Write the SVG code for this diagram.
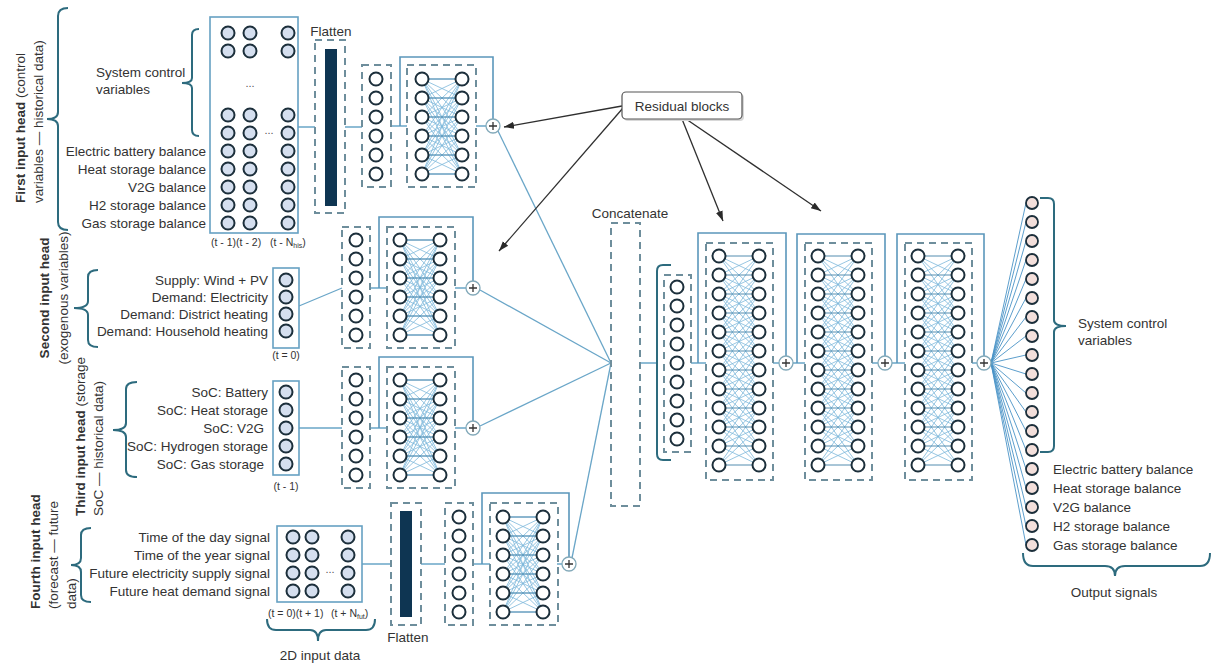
<svg xmlns="http://www.w3.org/2000/svg" width="1212" height="666" viewBox="0 0 1212 666">
<defs>
<style>
text{font-family:"Liberation Sans",Arial,sans-serif;fill:#333;font-size:13.5px}
.b{font-weight:bold}
.s{font-size:10.5px}
.sub{font-size:7px}
.mid{text-anchor:middle}
.end{text-anchor:end}
.nd{fill:#fff;stroke:#1c2f3b;stroke-width:2}
.ni{fill:#d5dfef;stroke:#1c2f3b;stroke-width:2}
.no{fill:#f3dfdb;stroke:#1c2f3b;stroke-width:1.8}
.box{fill:#fff;stroke:#66a1c2;stroke-width:1.6}
.dash{fill:none;stroke:#6e8e9c;stroke-width:2;stroke-dasharray:7 5}
.br{fill:none;stroke:#2d6b7e;stroke-width:2}
.fc{fill:none;stroke:#7cb8da;stroke-width:0.8}
.fh{fill:none;stroke:#3f7fa6;stroke-width:0.9}
.ln{fill:none;stroke:#6aa6c8;stroke-width:1.3}
.sk{fill:none;stroke:#5b97bb;stroke-width:1.6}
.fan{fill:none;stroke:#4a93c6;stroke-width:0.9}
.ar{fill:none;stroke:#2f2f2f;stroke-width:1.3}
.pc{fill:#fff;stroke:#82a9b9;stroke-width:1.3}
.pp{fill:none;stroke:#333;stroke-width:1.3}
.bar{fill:#0e3552}
.dots{fill:#555;font-size:11px}
</style>
<marker id="ah" viewBox="0 0 10 10" refX="10" refY="5" markerWidth="10" markerHeight="10" markerUnits="userSpaceOnUse" orient="auto"><path d="M0,1.5L10,5L0,8.5z" fill="#2a2a2a"/></marker>
<g id="c6" class="nd"><circle cx="0" cy="0" r="6.5"/><circle cx="0" cy="19" r="6.5"/><circle cx="0" cy="38" r="6.5"/><circle cx="0" cy="57" r="6.5"/><circle cx="0" cy="76" r="6.5"/><circle cx="0" cy="95" r="6.5"/></g>
<g id="c9" class="nd"><circle cx="0" cy="0" r="6.5"/><circle cx="0" cy="19" r="6.5"/><circle cx="0" cy="38" r="6.5"/><circle cx="0" cy="57" r="6.5"/><circle cx="0" cy="76" r="6.5"/><circle cx="0" cy="95" r="6.5"/><circle cx="0" cy="114" r="6.5"/><circle cx="0" cy="133" r="6.5"/><circle cx="0" cy="152" r="6.5"/></g>
<g id="c12" class="nd"><circle cx="0" cy="0" r="6.5"/><circle cx="0" cy="19" r="6.5"/><circle cx="0" cy="38" r="6.5"/><circle cx="0" cy="57" r="6.5"/><circle cx="0" cy="76" r="6.5"/><circle cx="0" cy="95" r="6.5"/><circle cx="0" cy="114" r="6.5"/><circle cx="0" cy="133" r="6.5"/><circle cx="0" cy="152" r="6.5"/><circle cx="0" cy="171" r="6.5"/><circle cx="0" cy="190" r="6.5"/><circle cx="0" cy="209" r="6.5"/></g>
<g id="ci9" class="ni"><circle cx="0" cy="33" r="6.5"/><circle cx="0" cy="51" r="6.5"/><circle cx="0" cy="115" r="6.5"/><circle cx="0" cy="133" r="6.5"/><circle cx="0" cy="151" r="6.5"/><circle cx="0" cy="169" r="6.5"/><circle cx="0" cy="187" r="6.5"/><circle cx="0" cy="205" r="6.5"/><circle cx="0" cy="223" r="6.5"/></g>
<g id="ci4" class="ni"><circle cx="0" cy="537" r="6.5"/><circle cx="0" cy="555" r="6.5"/><circle cx="0" cy="573" r="6.5"/><circle cx="0" cy="591" r="6.5"/></g>
<path id="fc6" class="fc" d="M40 0L0 0L40 19M40 38L0 0L40 57M40 76L0 0L40 95M40 0L0 19L40 19M40 38L0 19L40 57M40 76L0 19L40 95M40 0L0 38L40 19M40 38L0 38L40 57M40 76L0 38L40 95M40 0L0 57L40 19M40 38L0 57L40 57M40 76L0 57L40 95M40 0L0 76L40 19M40 38L0 76L40 57M40 76L0 76L40 95M40 0L0 95L40 19M40 38L0 95L40 57M40 76L0 95L40 95"/>
<path id="fh6" class="fh" d="M0 0H40M0 19H40M0 38H40M0 57H40M0 76H40M0 95H40"/>
<path id="fc12" class="fc" d="M40 19L0 0L40 38M0 0L40 57M40 0L0 19L40 38M40 57L0 19L40 76M40 0L0 38L40 19M40 57L0 38L40 76M0 38L40 95M40 0L0 57L40 19M40 38L0 57L40 76M40 95L0 57L40 114M40 19L0 76L40 38M40 57L0 76L40 95M40 114L0 76L40 133M40 38L0 95L40 57M40 76L0 95L40 114M40 133L0 95L40 152M40 57L0 114L40 76M40 95L0 114L40 133M40 152L0 114L40 171M40 76L0 133L40 95M40 114L0 133L40 152M40 171L0 133L40 190M40 95L0 152L40 114M40 133L0 152L40 171M40 190L0 152L40 209M40 114L0 171L40 133M40 152L0 171L40 190M0 171L40 209M40 133L0 190L40 152M40 171L0 190L40 209M40 152L0 209L40 171M0 209L40 190"/>
<path id="fh12" class="fh" d="M0 0H40M0 19H40M0 38H40M0 57H40M0 76H40M0 95H40M0 114H40M0 133H40M0 152H40M0 171H40M0 190H40M0 209H40"/>
<g id="r6"><use href="#fc6"/><use href="#fh6"/><use href="#c6"/><use href="#c6" x="40"/></g>
<g id="r12"><use href="#fc12"/><use href="#fh12"/><use href="#c12"/><use href="#c12" x="40"/></g>
<g id="plus"><circle cx="0" cy="0" r="7" class="pc"/><path class="pp" d="M-4 0H4M0 -4V4"/></g>
</defs>

<rect width="1212" height="666" fill="#fff"/>

<!-- connectors -->
<g id="connectors">
<path class="ln" d="M298 127H315M345 127H362M391 126H407M476 126H486"/>
<path class="sk" d="M400 126V57H493V119"/>
<path class="ln" d="M498 131L611 363"/>
<path class="ln" d="M299 306L342 288M370 288H387M455 288H466"/>
<path class="sk" d="M379 288V217H473V281"/>
<path class="ln" d="M480 290L611 363"/>
<path class="ln" d="M299 428H342M370 428H387M455 428H466"/>
<path class="sk" d="M379 428V357H473V421"/>
<path class="ln" d="M480 426L611 363"/>
<path class="ln" d="M362 564H391M421 564H445M473 564H490M557 564H562"/>
<path class="sk" d="M482 564V493H569V557"/>
<path class="ln" d="M572 558L611 363"/>
<path class="ln" d="M640 363H657M691 363H706M773 363H779M793 363H805M872 363H878M892 363H905M972 363H977"/>
<path class="sk" d="M698 363V233H786V356M797 363V234H885V356M897 363V234H984V356"/>
<path class="fan" d="M991 363L1026 203M991 363L1026 222M991 363L1026 241M991 363L1026 260M991 363L1026 279M991 363L1026 298M991 363L1026 317M991 363L1026 336M991 363L1026 355M991 363L1026 374M991 363L1026 393M991 363L1026 412M991 363L1026 431M991 363L1026 450M991 363L1026 469M991 363L1026 488M991 363L1026 507M991 363L1026 526M991 363L1026 545"/>
<path class="ar" marker-end="url(#ah)" d="M622 106L504 127"/>
<path class="ar" marker-end="url(#ah)" d="M623 108L499 251"/>
<path class="ar" marker-end="url(#ah)" d="M682 119L723 221"/>
<path class="ar" marker-end="url(#ah)" d="M686 119L821 211"/>
</g>

<!-- head 1 -->
<g id="head1-label">
<text transform="translate(25,203) rotate(-90)"><tspan class="b">First input head</tspan> (control</text>
<text transform="translate(43,203) rotate(-90)">variables — historical data)</text>
<path class="br" d="M68 8Q58 8 58 16V112Q58 119 47 119Q58 119 58 126V222Q58 230 68 230"/>
</g>
<g id="head1-input">
<path class="br" d="M199 29Q192 29 192 35V78Q192 83 182 83Q192 83 192 88V130Q192 136 199 136"/>
<text x="96" y="77">System control</text>
<text x="96" y="94">variables</text>
<text class="end" x="206" y="156">Electric battery balance</text>
<text class="end" x="206" y="174">Heat storage balance</text>
<text class="end" x="206" y="192">V2G balance</text>
<text class="end" x="206" y="210">H2 storage balance</text>
<text class="end" x="206" y="228">Gas storage balance</text>
<rect class="box" x="210" y="17" width="88" height="216"/>
<use href="#ci9" x="228"/><use href="#ci9" x="250"/><use href="#ci9" x="288"/>
<text class="dots mid" x="250" y="87">...</text>
<text class="dots mid" x="269" y="134">...</text>
<text class="s" x="211" y="246">(t - 1)(t - 2)</text>
<text class="s" x="270" y="246">(t - N<tspan class="sub" dy="2">his</tspan><tspan dy="-2">)</tspan></text>
</g>
<g id="head1-flatten">
<text class="mid" x="331" y="36">Flatten</text>
<rect class="dash" x="315" y="40" width="30" height="173"/>
<rect class="bar" x="325" y="49" width="12" height="157"/>
</g>
<g id="head1-dense">
<rect class="dash" x="362" y="65" width="29" height="122"/>
<use href="#c6" x="376" y="79"/>
</g>
<g id="head1-res">
<rect class="dash" x="407" y="65" width="69" height="122"/>
<use href="#r6" x="422" y="79"/>
</g>
<g id="head1-add"><use href="#plus" x="493" y="126"/></g>

<!-- head 2 -->
<g id="head2-label">
<text class="mid" transform="translate(49,298) rotate(-90)"><tspan class="b">Second input head</tspan></text>
<text class="mid" transform="translate(68,298) rotate(-90)">(exogenous variables)</text>
<path class="br" d="M98 270Q88 270 88 277V301Q88 308 74 308Q88 308 88 315V340Q88 347 98 347"/>
</g>
<g id="head2-input">
<text class="end" x="268" y="285">Supply: Wind + PV</text>
<text class="end" x="268" y="302">Demand: Electricity</text>
<text class="end" x="268" y="319">Demand: District heating</text>
<text class="end" x="268" y="336">Demand: Household heating</text>
<rect class="box" x="273" y="268" width="26" height="80"/>
<g class="ni"><circle cx="286" cy="280" r="6.5"/><circle cx="286" cy="297" r="6.5"/><circle cx="286" cy="314" r="6.5"/><circle cx="286" cy="331" r="6.5"/></g>
<text class="s mid" x="286" y="359">(t = 0)</text>
</g>
<g id="head2-dense">
<rect class="dash" x="342" y="227" width="28" height="121"/>
<use href="#c6" x="356" y="240"/>
</g>
<g id="head2-res">
<rect class="dash" x="387" y="227" width="68" height="121"/>
<use href="#r6" x="400" y="240"/>
</g>
<g id="head2-add"><use href="#plus" x="473" y="288"/></g>

<!-- head 3 -->
<g id="head3-label">
<text transform="translate(85,516) rotate(-90)"><tspan class="b">Third input head</tspan> (storage</text>
<text transform="translate(103,516) rotate(-90)">SoC — historical data)</text>
<path class="br" d="M137 382Q126 382 126 389V423Q126 430 113 430Q126 430 126 437V470Q126 477 137 477"/>
</g>
<g id="head3-input">
<text class="end" x="268" y="397">SoC: Battery</text>
<text class="end" x="268" y="415">SoC: Heat storage</text>
<text class="end" x="264" y="433">SoC: V2G</text>
<text class="end" x="268" y="451">SoC: Hydrogen storage</text>
<text class="end" x="264" y="469">SoC: Gas storage</text>
<rect class="box" x="273" y="381" width="26" height="94"/>
<g class="ni"><circle cx="286" cy="392" r="6.5"/><circle cx="286" cy="410" r="6.5"/><circle cx="286" cy="428" r="6.5"/><circle cx="286" cy="446" r="6.5"/><circle cx="286" cy="464" r="6.5"/></g>
<text class="s mid" x="286" y="490">(t - 1)</text>
</g>
<g id="head3-dense">
<rect class="dash" x="342" y="367" width="28" height="121"/>
<use href="#c6" x="356" y="380"/>
</g>
<g id="head3-res">
<rect class="dash" x="387" y="367" width="68" height="121"/>
<use href="#r6" x="400" y="380"/>
</g>
<g id="head3-add"><use href="#plus" x="473" y="428"/></g>

<!-- head 4 -->
<g id="head4-label">
<text transform="translate(40,609) rotate(-90)"><tspan class="b">Fourth input head</tspan></text>
<text transform="translate(58,609) rotate(-90)">(forecast — future</text>
<text transform="translate(76,609) rotate(-90)">data)</text>
<path class="br" d="M91 528Q81 528 81 535V558Q81 565 71 565Q81 565 81 572V595Q81 602 91 602"/>
</g>
<g id="head4-input">
<text class="end" x="270" y="542">Time of the day signal</text>
<text class="end" x="270" y="560">Time of the year signal</text>
<text class="end" x="270" y="578">Future electricity supply signal</text>
<text class="end" x="270" y="596">Future heat demand signal</text>
<rect class="box" x="277" y="526" width="85" height="76"/>
<use href="#ci4" x="293"/><use href="#ci4" x="312"/><use href="#ci4" x="348"/>
<text class="dots mid" x="330" y="573">...</text>
<text class="s" x="268" y="617">(t = 0)(t + 1)</text>
<text class="s" x="331" y="617">(t + N<tspan class="sub" dy="2">fut</tspan><tspan dy="-2">)</tspan></text>
<path class="br" d="M267 619Q267 630 276 630H310Q318 630 318 641Q318 630 326 630H366Q375 630 375 619"/>
<text class="mid" x="320" y="660">2D input data</text>
</g>
<g id="head4-flatten">
<rect class="dash" x="391" y="503" width="30" height="122"/>
<rect class="bar" x="400" y="511" width="12" height="106"/>
<text class="mid" x="408" y="642">Flatten</text>
</g>
<g id="head4-dense">
<rect class="dash" x="445" y="503" width="28" height="122"/>
<use href="#c6" x="459" y="517"/>
</g>
<g id="head4-res">
<rect class="dash" x="490" y="503" width="68" height="122"/>
<use href="#r6" x="503" y="517"/>
</g>
<g id="head4-add"><use href="#plus" x="569" y="564"/></g>

<!-- residual label -->
<g id="residual-label">
<rect x="624" y="94" width="120" height="27" rx="4" fill="#d8d8d8"/>
<rect x="622" y="92" width="120" height="27" rx="4" fill="#fff" stroke="#555" stroke-width="1.2"/>
<text class="mid" x="682" y="111">Residual blocks</text>
</g>

<!-- concatenate -->
<g id="concat">
<text class="mid" x="630" y="218">Concatenate</text>
<rect class="dash" x="611" y="223" width="29" height="283"/>
</g>
<g id="dense5">
<path class="br" d="M671 265H663Q657 265 657 271V454Q657 460 663 460H671"/>
<rect class="dash" x="664" y="275" width="27" height="177"/>
<use href="#c9" x="677" y="287"/>
</g>
<g id="res-big1">
<rect class="dash" x="706" y="243" width="67" height="237"/>
<use href="#r12" x="719" y="256"/>
</g>
<g id="add-big1"><use href="#plus" x="786" y="363"/></g>
<g id="res-big2">
<rect class="dash" x="805" y="243" width="67" height="237"/>
<use href="#r12" x="818" y="256"/>
</g>
<g id="add-big2"><use href="#plus" x="885" y="363"/></g>
<g id="res-big3">
<rect class="dash" x="905" y="243" width="67" height="237"/>
<use href="#r12" x="918" y="256"/>
</g>
<g id="add-big3"><use href="#plus" x="984" y="363"/></g>

<!-- output -->
<g id="output">
<g class="no">
<circle cx="1032" cy="203" r="6"/><circle cx="1032" cy="222" r="6"/><circle cx="1032" cy="241" r="6"/><circle cx="1032" cy="260" r="6"/><circle cx="1032" cy="279" r="6"/><circle cx="1032" cy="298" r="6"/><circle cx="1032" cy="317" r="6"/><circle cx="1032" cy="336" r="6"/><circle cx="1032" cy="355" r="6"/><circle cx="1032" cy="374" r="6"/><circle cx="1032" cy="393" r="6"/><circle cx="1032" cy="412" r="6"/><circle cx="1032" cy="431" r="6"/><circle cx="1032" cy="450" r="6"/><circle cx="1032" cy="469" r="6"/><circle cx="1032" cy="488" r="6"/><circle cx="1032" cy="507" r="6"/><circle cx="1032" cy="526" r="6"/><circle cx="1032" cy="545" r="6"/>
</g>
<path class="br" d="M1040 198H1048Q1054 198 1054 204V320Q1054 326 1066 326Q1054 326 1054 332V446Q1054 452 1048 452H1040"/>
<text x="1078" y="328">System control</text>
<text x="1078" y="345">variables</text>
<text x="1053" y="474">Electric battery balance</text>
<text x="1053" y="493">Heat storage balance</text>
<text x="1053" y="512">V2G balance</text>
<text x="1053" y="531">H2 storage balance</text>
<text x="1053" y="550">Gas storage balance</text>
<path class="br" d="M1023 553Q1023 566 1033 566H1105Q1115 566 1115 576Q1115 566 1125 566H1200Q1210 566 1210 553"/>
<text class="mid" x="1114" y="597">Output signals</text>
</g>
</svg>
